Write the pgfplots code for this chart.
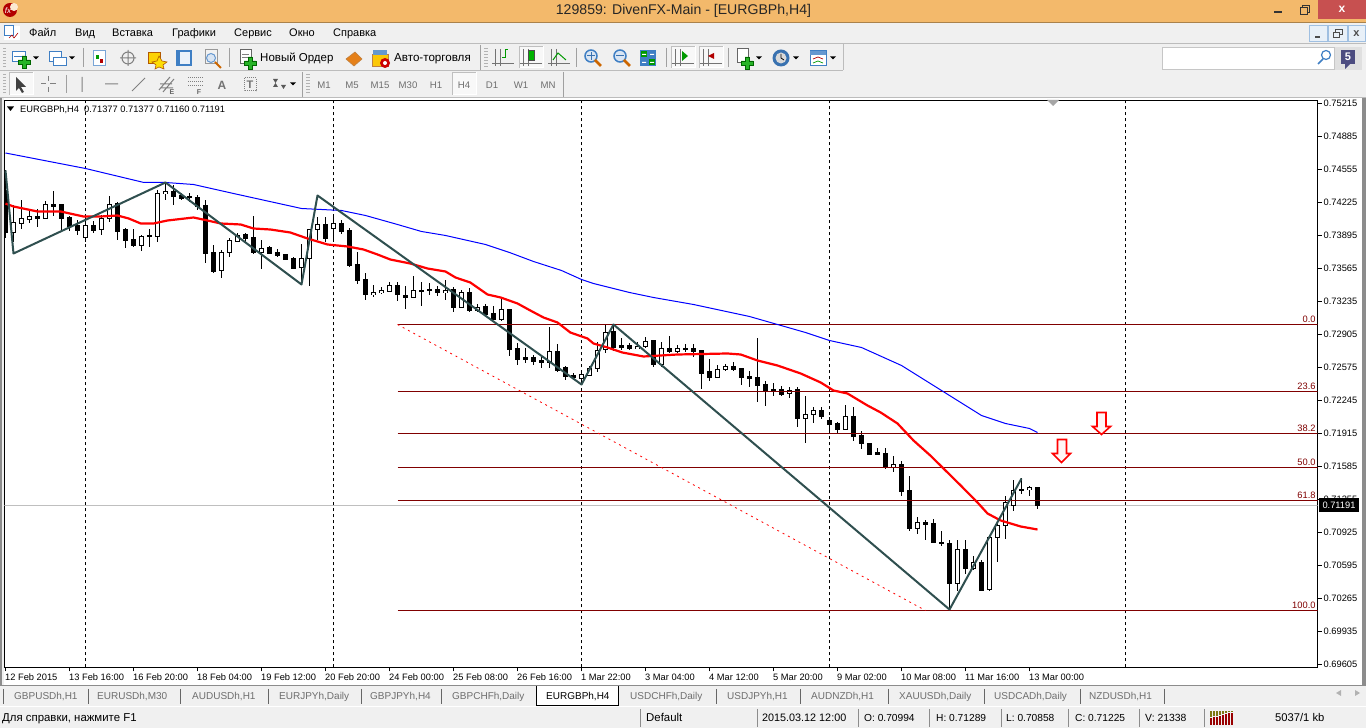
\documentclass[border=0pt]{standalone}
\usepackage{fontspec}
\setmainfont{Liberation Sans}
\usepackage{pgfplots}
\usepackage{pgfplotstable}
\pgfplotsset{compat=1.18}
\newcommand\fs[1]{\fontsize{#1}{#1}\selectfont}
\definecolor{barbg}{HTML}{F0F0F0}
\definecolor{titlebar}{HTML}{F3B96B}
\definecolor{closeb}{HTML}{C75050}
\definecolor{sepg}{HTML}{A0A0A0}
\definecolor{zz}{HTML}{2F4F4F}
\definecolor{fibc}{HTML}{800000}
\definecolor{txtg}{HTML}{6E6E6E}
\definecolor{gplus}{HTML}{27B327}
\definecolor{iblue}{HTML}{3F7FC4}
\pgfplotstableread{
i o h l c
0 .74345 .74545 .73865 .73925
1 .73925 .74195 .73825 .74025
2 .74015 .74245 .73955 .74065
3 .74055 .74145 .74015 .74085
4 .74085 .74155 .73975 .74065
5 .74065 .74235 .74055 .74205
6 .74205 .74335 .74085 .74185
7 .74205 .74205 .73945 .74065
8 .74075 .74085 .73935 .73985
9 .73995 .74045 .73895 .73945
10 .73875 .74095 .73825 .73995
11 .73995 .74035 .73915 .73945
12 .73955 .74095 .73895 .74065
13 .74065 .74285 .74025 .74205
14 .74215 .74225 .73845 .73935
15 .73955 .73965 .73765 .73845
16 .73855 .73955 .73775 .73795
17 .73795 .73895 .73735 .73885
18 .73895 .73955 .73775 .73885
19 .73885 .74345 .73825 .74315
20 .74315 .74425 .74245 .74335
21 .74335 .74395 .74195 .74285
22 .74295 .74315 .74245 .74265
23 .74285 .74315 .74225 .74275
24 .74275 .74295 .74145 .74185
25 .74195 .74245 .73615 .73715
26 .73725 .73795 .73515 .73535
27 .73545 .73745 .73465 .73725
28 .73725 .73865 .73675 .73845
29 .73835 .73915 .73825 .73895
30 .73905 .73915 .73825 .73865
31 .73875 .74085 .73705 .73725
32 .73725 .73845 .73555 .73765
33 .73775 .73785 .73705 .73715
34 .73725 .73755 .73675 .73695
35 .73705 .73705 .73645 .73655
36 .73665 .73675 .73555 .73565
37 .73575 .73805 .73425 .73665
38 .73665 .73955 .73385 .73955
39 .73955 .74075 .73845 .74005
40 .74005 .74075 .73825 .73865
41 .73965 .74095 .73825 .74015
42 .74015 .74045 .73905 .73935
43 .73945 .73965 .73575 .73595
44 .73605 .73725 .73405 .73445
45 .73455 .73515 .73245 .73305
46 .73305 .73395 .73275 .73325
47 .73325 .73375 .73305 .73345
48 .73335 .73425 .73325 .73395
49 .73395 .73425 .73235 .73305
50 .73295 .73385 .73155 .73275
51 .73275 .73485 .73265 .73345
52 .73345 .73425 .73185 .73335
53 .73355 .73415 .73295 .73345
54 .73355 .73385 .73285 .73325
55 .73325 .73445 .73245 .73345
56 .73355 .73375 .73125 .73175
57 .73175 .73345 .73165 .73325
58 .73325 .73365 .73125 .73145
59 .73145 .73205 .73125 .73175
60 .73185 .73205 .73095 .73105
61 .73115 .73185 .73045 .73055
62 .73055 .73265 .73035 .73155
63 .73155 .73155 .72685 .72755
64 .72765 .72815 .72595 .72655
65 .72675 .72765 .72615 .72655
66 .72675 .72695 .72595 .72635
67 .72645 .72685 .72565 .72625
68 .72625 .72975 .72565 .72735
69 .72735 .72805 .72525 .72545
70 .72575 .72585 .72445 .72485
71 .72495 .72515 .72465 .72475
72 .72465 .72525 .72395 .72505
73 .72495 .72585 .72485 .72565
74 .72565 .72825 .72525 .72745
75 .72755 .72995 .72715 .72925
76 .72935 .73005 .72735 .72775
77 .72795 .72865 .72745 .72775
78 .72795 .72815 .72745 .72765
79 .72765 .72825 .72755 .72785
80 .72785 .72875 .72765 .72835
81 .72845 .72845 .72575 .72605
82 .72605 .72825 .72575 .72765
83 .72765 .72885 .72715 .72735
84 .72735 .72795 .72715 .72765
85 .72765 .72805 .72725 .72755
86 .72765 .72805 .72675 .72735
87 .72745 .72745 .72355 .72515
88 .72535 .72655 .72435 .72475
89 .72475 .72595 .72465 .72555
90 .72555 .72605 .72535 .72585
91 .72585 .72625 .72535 .72555
92 .72565 .72565 .72395 .72475
93 .72485 .72535 .72375 .72465
94 .72475 .72865 .72225 .72395
95 .72405 .72435 .72185 .72345
96 .72355 .72415 .72285 .72345
97 .72355 .72385 .72285 .72305
98 .72315 .72375 .72265 .72345
99 .72355 .72375 .71975 .72065
100 .72065 .72285 .71815 .72105
101 .72105 .72175 .72015 .72145
102 .72145 .72175 .72055 .72085
103 .72045 .72075 .71915 .72005
104 .72015 .72025 .71915 .71955
105 .71955 .72195 .71955 .72085
106 .72085 .72175 .71835 .71885
107 .71895 .71935 .71755 .71815
108 .71815 .71815 .71705 .71705
109 .71725 .71765 .71705 .71705
110 .71715 .71765 .71555 .71575
111 .71575 .71685 .71525 .71605
112 .71605 .71635 .71285 .71335
113 .71345 .71485 .70935 .70965
114 .70965 .71075 .70905 .71025
115 .71025 .71045 .70845 .71005
116 .71015 .71055 .70815 .70825
117 .70825 .70935 .70785 .70815
118 .70815 .70845 .70155 .70415
119 .70415 .70845 .70335 .70755
120 .70755 .70845 .70505 .70565
121 .70565 .70685 .70545 .70625
122 .70625 .70645 .70335 .70345
123 .70355 .70895 .70335 .70875
124 .70875 .71025 .70625 .70995
125 .70994 .71289 .70858 .71225
126 .71195 .71445 .71135 .71345
127 .71355 .71465 .71305 .71345
128 .71355 .71385 .71285 .71375
129 .71377 .71377 .71160 .71191
}\cndl
\newcommand\Tx[4]{\node[anchor=base west,inner sep=0pt,font=\fs{#3}] at (#1,#2) {#4};}
\newcommand\Dd[2]{\fill[black] (#1-3,#2-1.5)--(#1+3,#2-1.5)--(#1,#2+1.5)--cycle;}
\newcommand\Pl[2]{\fill[gplus,draw=green!40!black,line width=.5pt] (#1-2,#2-6)--(#1+2,#2-6)--(#1+2,#2-2)--(#1+6,#2-2)--(#1+6,#2+2)--(#1+2,#2+2)--(#1+2,#2+6)--(#1-2,#2+6)--(#1-2,#2+2)--(#1-6,#2+2)--(#1-6,#2-2)--(#1-2,#2-2)--cycle;}
\newcommand\Sel[4]{\draw[white,fill=white!50!barbg,line width=1pt] (#1,#2) rectangle (#3,#4); \draw[black!25,line width=1pt] (#1,#4)--(#1,#2)--(#3,#2);}
\newcommand\Ax[1]{\draw[black!55,line width=.8pt] (#1-8,49)--(#1-8,66) (#1-3,49)--(#1-3,66) (#1-11,63)--(#1+11,63);}
\begin{document}
\begin{tikzpicture}[x=1pt,y=1pt]
\path (0,0) rectangle (1366,728);
\clip (0,0) rectangle (1366,728);
\begin{scope}[yshift=728pt,y=-1pt]
\fill[barbg] (0,0) rectangle (1366,728);
% title bar
\fill[titlebar] (0,0) rectangle (1366,22);
\draw[black!30!titlebar,line width=1pt] (0,22.5)--(1366,22.5);
\fill[red!70!black] (10,10) circle (7);
\fill[white!70!titlebar] (14,7) circle (4);
\node[font=\fs{8}\itshape,text=white] at (8,11) {fx};
\node[font=\fs{14.1},text=black!85] at (683.5,11) {129859: DivenFX-Main - [EURGBPh,H4]};
\fill[black!80] (1274,11.5) rectangle (1282,13.5);
\draw[black!80,line width=1pt] (1300,8) rectangle (1307,15) (1302.5,8)--(1302.5,5.5)--(1309.5,5.5)--(1309.5,12.5)--(1307,12.5);
\fill[closeb] (1318,0) rectangle (1366,19);
\node[font=\fs{12},text=white] at (1342,9.5) {\textbf{x}};
% menu
\fill[white] (4,26) rectangle (20,40);
\draw[iblue,line width=1pt] (4,26) rectangle (13,36);
\draw[red!70!black,line width=.6pt] (9,38)--(12,35)--(14,38)--(18,33);
\foreach \xx/\tt in {29/Файл,75/Вид,112/Вставка,172/Графики,234/Сервис,289/Окно,333/Справка}
  {\Tx{\xx}{37}{11}{\tt}}
\draw[iblue!50,fill=iblue!12,line width=1pt] (1309.5,25.5) rectangle (1327,42) (1328.5,25.5) rectangle (1347,42) (1348.5,25.5) rectangle (1365,42);
\fill[black!70] (1315,36) rectangle (1320,38);
\draw[black!70,line width=1pt] (1333,33) rectangle (1339,38) (1335,33)--(1335,30)--(1342,30)--(1342,35)--(1339,35);
\node[font=\fs{11}\bfseries,text=black!70] at (1356.5,33.5) {x};
\draw[sepg!70,line width=1pt] (0,43.5)--(1366,43.5);
\draw[sepg!70,line width=1pt] (0,70.5)--(843,70.5) (843,44)--(843,70) (0,97.5)--(1366,97.5);
% toolbar 1 icons
\foreach \yy in {48,51,...,66}{\fill[black!30] (3,\yy) rectangle (6,\yy+1);}
\draw[iblue,fill=white,line width=1pt] (12,52) rectangle (25,62);
\draw[iblue,line width=.6pt] (14,56)--(22,56);
\Pl{24}{62}\Dd{36}{58}
\draw[iblue,fill=white,line width=1pt] (49,52) rectangle (61,62);
\draw[iblue,fill=white,line width=1pt] (53,58) rectangle (66,66);
\Dd{72}{58}
\draw[sepg,line width=1pt] (83.5,48)--(83.5,67) (229.5,48)--(229.5,67) (480.5,45)--(480.5,70) (576.5,48)--(576.5,67) (666.5,48)--(666.5,67) (728.5,48)--(728.5,67);
\draw[iblue!70,fill=white,line width=1pt] (93,51) rectangle (105,66);
\fill[green!60!black] (96,55) rectangle (99,59);
\fill[red!70!black] (100,59) rectangle (103,63);
\draw[black!50,line width=1pt] (128,58) circle (6) (120,58)--(136,58) (128,50)--(128,66);
\fill[yellow!70!orange,draw=orange!70!black,line width=.6pt] (148,52) rectangle (160,63);
\fill[yellow!80!orange,draw=orange!70!black,line width=.6pt] (159,56)--(162,61)--(167,62)--(163,65)--(164,69)--(159,67)--(155,69)--(156,65)--(152,62)--(157,61)--cycle;
\draw[iblue,fill=iblue!10,line width=1.5pt] (177,51) rectangle (191,65);
\fill[iblue] (177,51) rectangle (180,65);
\draw[black!40,fill=black!5,line width=1pt] (205,50) rectangle (217,64);
\draw[iblue!80,fill=iblue!20,line width=1pt] (211,58) circle (4.5);
\draw[orange!80!black,line width=2pt] (215,62)--(221,68);
\draw[black!60,fill=white,line width=1pt] (240,50) rectangle (251,64);
\draw[black!50,line width=.6pt] (242,54)--(249,54) (242,57)--(249,57);
\Pl{250}{63}
\Tx{260}{62}{11.5}{Новый Ордер}
\fill[orange!60!brown,draw=brown,line width=.6pt] (346,59)--(355,52)--(362,59)--(354,66)--cycle;
\fill[yellow!60!orange,draw=brown,line width=.6pt] (372,54) rectangle (388,66);
\fill[iblue!80] (373,50) rectangle (387,55);
\fill[red!80!black] (385,63) circle (5);
\fill[white] (385,63) circle (2);
\Tx{394}{62}{11.6}{Авто-торговля}
\foreach \yy in {48,51,...,66}{\fill[black!30] (484,\yy) rectangle (488,\yy+1);}
\Sel{519}{47}{543}{68}\Sel{671}{47}{695}{68}\Sel{699}{47}{723}{68}
\Ax{503}\Ax{531}\Ax{559}\Ax{683}\Ax{711}
\draw[green!60!black,line width=1pt] (502,58)--(505,58)--(505,50)--(508,50);
\fill[green!70!black,draw=black!70,line width=.5pt] (528,50) rectangle (534,60);
\draw[green!60!black,line width=1pt] (553,60)--(558,53)--(566,60);
\fill[green!60!black] (682,51)--(688,56)--(682,61)--cycle;
\fill[red!70!black] (714,53)--(708,56)--(714,59)--cycle;
\foreach \xx/\cc in {591/iblue,620/iblue}{\draw[iblue,fill=iblue!20,line width=1.5pt] (\xx,56) circle (6); \draw[orange!80!black,line width=2.5pt] (\xx+4,60)--(\xx+10,66);}
\draw[iblue!90!black,line width=1pt] (587,56)--(595,56) (591,52)--(591,60) (616,56)--(624,56);
\fill[iblue] (640,50) rectangle (656,66);
\fill[green!60!black] (641,51) rectangle (647,57);
\fill[green!60!black] (649,59) rectangle (655,65);
\fill[white] (642,54) rectangle (646,55) (650,54) rectangle (654,55) (642,62) rectangle (646,63) (650,62) rectangle (654,63);
\draw[black!60,fill=white,line width=1pt] (737,49) rectangle (748,63);
\Pl{747}{63}\Dd{759}{58}
\fill[iblue!90!black] (781,58) circle (8.5);
\fill[white!85!black] (781,58) circle (5.5);
\draw[black,line width=.8pt] (781,54)--(781,58)--(784,60);
\Dd{796}{58}
\draw[iblue,fill=white,line width=1pt] (810,51) rectangle (826,66);
\fill[iblue!80] (810,51) rectangle (826,55);
\draw[red!70!black,line width=.7pt] (813,59)--(818,57)--(823,59);
\draw[green!60!black,line width=.7pt] (813,63)--(818,61)--(823,63);
\Dd{833}{58}
% search
\draw[sepg!60,fill=white,line width=1pt] (1162,47.5) rectangle (1334,69.5);
\draw[iblue,line width=1.2pt] (1326,55) circle (4.5);
\draw[iblue,line width=1.5pt] (1323,59)--(1318,64);
\fill[black!12] (1335,47) rectangle (1362,70);
\fill[black!50!blue!40!gray] (1341,50) rectangle (1355,64);
\fill[black!50!blue!40!gray] (1345,64)--(1345,69)--(1350,64)--cycle;
\node[font=\fs{11}\bfseries,text=white] at (1348,57) {5};
% toolbar 2
\foreach \yy in {74,77,...,92}{\fill[black!30] (3,\yy) rectangle (6,\yy+1);}
\draw[sepg,line width=1pt] (66.5,75)--(66.5,93) (302.5,72)--(302.5,97) (563.5,72)--(563.5,97);
\Sel{9}{73}{33}{95}\Sel{452}{73}{476}{95}
\fill[black!75] (16,77)--(16,91)--(19,88)--(22,93)--(24,92)--(21,87)--(26,87)--cycle;
\draw[black!50,line width=1pt] (48,76)--(48,81) (48,87)--(48,92) (41,84)--(46,84) (50,84)--(56,84);
\draw[black!50,line width=1pt] (82,77)--(82,92) (105,84)--(118,84) (132,91)--(145,78);
\draw[black!50,line width=1pt] (159,90)--(170,77) (163,92)--(174,79) (160,84)--(172,84) (161,88)--(173,88);
\node[font=\fs{7}\bfseries,text=black!60] at (172,92) {E};
\draw[black!50,line width=1pt,dash pattern=on 1pt off 1pt] (188,78)--(204,78) (188,82)--(204,82) (188,86)--(204,86);
\node[font=\fs{7}\bfseries,text=black!60] at (199,92) {F};
\node[font=\fs{12}\bfseries,text=black!55] at (222,85) {A};
\draw[black!50,line width=1pt,dash pattern=on 1pt off 1pt] (244,78) rectangle (256,91);
\node[font=\fs{11}\bfseries,text=black!55] at (250,85) {T};
\fill[black!65] (273,79)--(278,79)--(275.5,83)--cycle (281,85)--(286,85)--(283.5,89)--cycle;
\fill[black!65] (273,87)--(278,87)--(275.5,83)--cycle;
\Dd{293}{84}
\foreach \yy in {74,77,...,92}{\fill[black!30] (306,\yy) rectangle (310,\yy+1);}
\foreach \xx/\tt in {324/M1,352/M5,380/M15,408/M30,436/H1,464/H4,492/D1,521/W1,548/MN}
  {\node[font=\fs{9.6},text=txtg,inner sep=0pt] at (\xx,85.5) {\tt};}
% chart window
\fill[white] (4,98) rectangle (1362,685.5);
\fill[black!45] (0,98) rectangle (2,686);
\fill[black!45] (1362,98) rectangle (1366,686);
% tabs
\draw[black!45,line width=1pt] (0,685.5)--(1366,685.5);
\foreach \xx/\tt in {14/GBPUSDh{,}H1,97/EURUSDh{,}M30,192/AUDUSDh{,}H1,279/EURJPYh{,}Daily,370/GBPJPYh{,}H4,452/GBPCHFh{,}Daily,630/USDCHFh{,}Daily,727/USDJPYh{,}H1,811/AUDNZDh{,}H1,899/XAUUSDh{,}Daily,994/USDCADh{,}Daily,1089/NZDUSDh{,}H1}
  {\node[anchor=base west,inner sep=0pt,font=\fs{10},text=txtg] at (\xx,700) {\tt};}
\foreach \xx in {3,88,180,268,361,441,716,800,888,984,1080,1164}{\draw[black!60,line width=1pt] (\xx+.5,689)--(\xx+.5,704);}
\fill[white] (536,686) rectangle (619,705);
\draw[black,line width=1pt] (536.5,686)--(536.5,705.5)--(618.5,705.5)--(618.5,686);
\node[anchor=base west,inner sep=0pt,font=\fs{10}] at (546,700) {EURGBPh,H4};
\fill[black!30] (1336,693)--(1341,690)--(1341,696)--cycle (1355,690)--(1360,693)--(1355,696)--cycle;
% status bar
\draw[white,line width=1pt] (0,706.5)--(1366,706.5);
\Tx{2}{722}{11.4}{Для справки, нажмите F1}
\foreach \xx in {640,757,858,929,1001,1068,1139,1204}{\draw[black!45,line width=1pt] (\xx+.5,709)--(\xx+.5,727);}
\Tx{646}{722}{11.4}{Default}
\Tx{762}{722}{10.8}{2015.03.12 12:00}
\Tx{864}{722}{10.2}{O: 0.70994}
\Tx{936}{722}{10.2}{H: 0.71289}
\Tx{1006}{722}{10.2}{L: 0.70858}
\Tx{1075}{722}{10.2}{C: 0.71225}
\Tx{1145}{722}{10.4}{V: 21338}
\Tx{1275}{722}{11.2}{5037/1 kb}
\foreach \xx/\hh in {1210/9,1213/10,1216/11,1219/12,1222/13,1225/14,1228/15,1231/16}{
 \fill[olive!85!black] (\xx,711) rectangle (\xx+2,724-\hh/1.3);
 \fill[red!60!black] (\xx,724-\hh/1.3+1) rectangle (\xx+2,725);}
\end{scope}
\begin{axis}[
  at={(4.5pt,60.5pt)},anchor=south west,
  scale only axis,width=1313pt,height=567pt,
  xmin=-0.125,xmax=164,ymin=0.69575,ymax=0.75245,
  axis line style={black,line width=1pt},
  tick style={black,line width=1pt},
  major tick length=4pt,tick align=outside,
  xtick pos=bottom,ytick pos=right,yticklabel pos=right,
  scaled y ticks=false,
  xtick={0,8,...,128},
  xticklabels={12 Feb 2015,13 Feb 16:00,16 Feb 20:00,18 Feb 04:00,19 Feb 12:00,20 Feb 20:00,24 Feb 00:00,25 Feb 08:00,26 Feb 16:00,1 Mar 22:00,3 Mar 04:00,4 Mar 12:00,5 Mar 20:00,9 Mar 02:00,10 Mar 08:00,11 Mar 16:00,13 Mar 00:00},
  ytick={0.75215,0.74885,0.74555,0.74225,0.73895,0.73565,0.73235,0.72905,0.72575,0.72245,0.71915,0.71585,0.71255,0.70925,0.70595,0.70265,0.69935,0.69605},
  yticklabel style={font=\fs{9.3},inner xsep=2pt,yshift=0.6pt,/pgf/number format/fixed,/pgf/number format/fixed zerofill,/pgf/number format/precision=5,/pgf/number format/assume math mode=true},
  xticklabel style={font=\fs{9.3},anchor=north west,inner xsep=0pt,inner ysep=1pt,xshift=-0.5pt,yshift=-1.5pt},
]
\addplot[line width=1pt,forget plot,color=black!25] coordinates {(-0.125,.71191)(164,.71191)};
\foreach \q in {10,41,72,103,140}{\edef\tmp{\noexpand\addplot[black,line width=1pt,dash pattern=on 3pt off 3pt,forget plot] coordinates {(\q,.69575)(\q,.75245)};}\tmp}
% wicks
\addplot[draw=none,mark=none,forget plot,error bars/.cd,y dir=both,y explicit,error mark=none,error bar style={black,line width=1pt}]
  table[x=i,y=o,y error plus expr=\thisrow{h}-\thisrow{o},y error minus expr=\thisrow{o}-\thisrow{l}] {\cndl};
% bodies
\addplot[draw=none,mark=none,forget plot,error bars/.cd,y dir=both,y explicit,error mark=none,error bar style={black,line width=5pt}]
  table[x=i,y expr=(\thisrow{o}+\thisrow{c})/2,y error expr=abs(\thisrow{c}-\thisrow{o})/2+0.00005] {\cndl};
\addplot[draw=none,mark=none,forget plot,x filter/.expression={\thisrow{c}>\thisrow{o}?x:nan},error bars/.cd,y dir=both,y explicit,error mark=none,error bar style={white,line width=3pt}]
  table[x=i,y expr=(\thisrow{o}+\thisrow{c})/2,y error expr=abs(\thisrow{c}-\thisrow{o})/2-0.00005] {\cndl};
% fibo
\foreach \v in {.73005,.72335,.71915,.71575,.71245,.70145}{\edef\tmp{\noexpand\addplot[fibc,line width=1pt,forget plot] coordinates {(49,\v)(164,\v)};}\tmp}
\addplot[red,line width=.8pt,dash pattern=on 2pt off 4pt,forget plot] coordinates {(49,.73005)(115,.70145)};
% blue MA
\addplot[blue,line width=1pt,forget plot] coordinates {(0,.74720)(10,.74565)(17.3,.74425)(20,.74425)(23.5,.74405)(28.5,.74315)(37,.74165)(42,.74145)(45,.74095)(49,.74005)(52,.73935)(55,.73895)(60,.73805)(63,.73725)(66,.73635)(69.5,.73545)(72,.73455)(73.5,.73415)(78,.73325)(81,.73275)(86,.73205)(89.5,.73145)(93,.73085)(96.5,.73005)(100,.72925)(103,.72845)(107,.72775)(112,.72595)(119,.72245)(122,.72095)(125,.72015)(128,.71965)(129,.71925)};
% red MA
\addplot[red,line width=2.2pt,forget plot] coordinates {(0,.74215)(1,.74185)(4,.74135)(6.9,.74135)(9.75,.74085)(11.9,.74085)(14,.74095)(15.4,.74065)(16.9,.74015)(18.5,.74015)(20.25,.74045)(23.5,.74075)(25.25,.74045)(26.9,.74015)(29.4,.74005)(31,.73965)(33.1,.73955)(35.6,.73925)(37.75,.73865)(40.25,.73805)(42.75,.73785)(44.75,.73755)(46.5,.73705)(48.1,.73655)(50.6,.73615)(52.75,.73565)(55,.73535)(56.25,.73475)(58.1,.73425)(60.25,.73305)(61.9,.73275)(64,.73215)(65.6,.73145)(67.25,.73075)(69,.73025)(70.6,.72925)(72.75,.72865)(73.5,.72815)(75.25,.72775)(77.1,.72725)(79.75,.72685)(84,.72705)(90.25,.72715)(91.9,.72705)(94,.72645)(96.5,.72595)(99.4,.72515)(101.9,.72425)(103.5,.72345)(105.25,.72315)(107.75,.72195)(109.4,.72125)(111.5,.72015)(113.5,.71845)(115.6,.71695)(117.25,.71565)(119.4,.71395)(121.5,.71225)(122.75,.71115)(124.4,.71045)(126.9,.70985)(129,.70955)};
% zigzag
\addplot[zz,line width=2pt,forget plot,line join=round] coordinates {(0,.74545)(1,.73715)(20,.74425)(37,.73405)(39,.74295)(72,.72405)(76,.73005)(118,.70155)(127,.71465)};
% arrows
\addplot[red,line width=1.6pt,fill=white!85!pink,forget plot] coordinates {(131.5,.71855)(132.625,.71855)(132.625,.71715)(133.125,.71715)(132,.71625)(130.875,.71715)(131.5,.71715)} --cycle;
\addplot[red,line width=1.6pt,fill=white!85!pink,forget plot] coordinates {(136.44,.72125)(137.56,.72125)(137.56,.71985)(138.125,.71985)(137,.71905)(135.875,.71985)(136.44,.71985)} --cycle;
% fibo labels
\foreach \v/\l in {.73005/0.0,.72335/23.6,.71915/38.2,.71575/50.0,.71245/61.8,.70145/100.0}{\edef\tmp{\noexpand\node[anchor=south east,inner xsep=1pt,inner ysep=2pt,font=\noexpand\fs{9.3},text=fibc] at (axis cs:163.9,\v) {\l};}\tmp}
\end{axis}
\begin{scope}[yshift=728pt,y=-1pt]
\fill[black!35] (1047,100)--(1059,100)--(1053,106)--cycle;
\fill[black] (1319,498.5) rectangle (1359,512.5);
\node[font=\fs{9.3},text=white,inner sep=0pt] at (1339,505.5) {0.71191};
\fill[black] (7,106.5)--(14,106.5)--(10.5,111)--cycle;
\node[anchor=base west,inner sep=0pt,font=\fs{9.3}] at (20,113) {EURGBPh,H4};
\node[anchor=base west,inner sep=0pt,font=\fs{9.3}] at (84,113) {0.71377 0.71377 0.71160 0.71191};
\end{scope}
\end{tikzpicture}
\end{document}
